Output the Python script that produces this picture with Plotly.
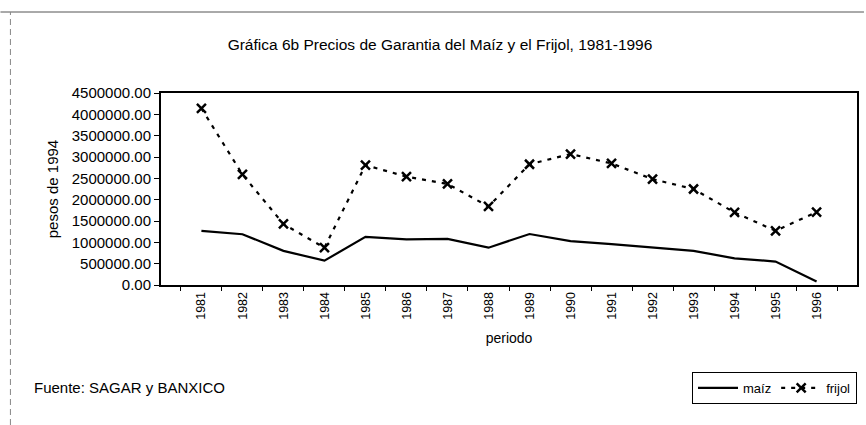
import plotly.graph_objects as go

years = [str(y) for y in range(1981, 1997)]
maiz = [1270000, 1190000, 800000, 570000, 1130000, 1070000, 1080000, 875000,
        1195000, 1030000, 960000, 880000, 800000, 625000, 550000, 80000]
frijol = [4140000, 2590000, 1430000, 875000, 2810000, 2540000, 2370000, 1840000,
          2830000, 3070000, 2850000, 2480000, 2250000, 1700000, 1270000, 1710000]

yticks = [0, 500000, 1000000, 1500000, 2000000, 2500000, 3000000, 3500000, 4000000, 4500000]
yticktext = ["0.00", "500000.00", "1000000.00", "1500000.00", "2000000.00",
             "2500000.00", "3000000.00", "3500000.00", "4000000.00", "4500000.00"]

FONT = "Liberation Sans, Arial, sans-serif"

fig = go.Figure()
fig.add_trace(go.Scatter(
    x=years, y=maiz, name="maíz", mode="lines",
    line=dict(color="black", width=2.2),
))
fig.add_trace(go.Scatter(
    x=years, y=frijol, name="frijol", mode="lines+markers",
    line=dict(color="black", width=2.2, dash="4px,6px"),
    marker=dict(symbol="x-thin", size=9, line=dict(color="black", width=2.5)),
))

fig.update_layout(
    width=866, height=425,
    margin=dict(l=161, r=7, t=93, b=140),
    paper_bgcolor="white", plot_bgcolor="white",
    font=dict(family=FONT, size=14, color="black"),
    title=dict(text="Gráfica 6b Precios de Garantia del Maíz y el Frijol, 1981-1996",
               x=440 / 866, xref="container", xanchor="center",
               y=1 - 45 / 425, yanchor="middle",
               font=dict(size=15.5)),
    showlegend=True,
    legend=dict(orientation="h", x=1, xanchor="right", y=-0.536, yanchor="middle",
                bordercolor="black", borderwidth=1, bgcolor="white",
                font=dict(size=13), itemwidth=40, tracegroupgap=0),
)

fig.update_xaxes(
    type="category", tickangle=-90, tickson="boundaries",
    ticks="outside", ticklen=4, tickcolor="black",
    showline=True, linecolor="black", linewidth=2, mirror=True,
    showgrid=False, tickfont=dict(size=12.5),
    title=dict(text="periodo", standoff=14, font=dict(size=14)),
)
fig.update_yaxes(
    range=[0, 4500000], tickvals=yticks, ticktext=yticktext,
    ticks="outside", ticklen=5, tickcolor="black",
    showline=True, linecolor="black", linewidth=2, mirror=True,
    showgrid=False, zeroline=False, tickfont=dict(size=15),
    title=dict(text="pesos de 1994", standoff=10, font=dict(size=15)),
)

fig.add_annotation(text="Fuente: SAGAR y BANXICO", xref="paper", yref="paper",
                   x=(32 - 161) / 698, y=-0.536, xanchor="left", yanchor="middle",
                   showarrow=False, font=dict(size=15))

# outer frame lines of the chart (top and left edges)
fig.add_shape(type="line", xref="paper", yref="paper",
              x0=-161 / 698, x1=(866 - 161) / 698,
              y0=(285 - 12) / 192, y1=(285 - 12) / 192,
              line=dict(color="#555555", width=1))
fig.add_shape(type="line", xref="paper", yref="paper",
              x0=(10 - 161) / 698, x1=(10 - 161) / 698,
              y0=(285 - 425) / 192, y1=(285 - 12) / 192,
              line=dict(color="#888888", width=1, dash="6px,4px"))

fig.write_html("out.html", config={"displayModeBar": False},
               post_script="document.body.style.margin='0px';")
